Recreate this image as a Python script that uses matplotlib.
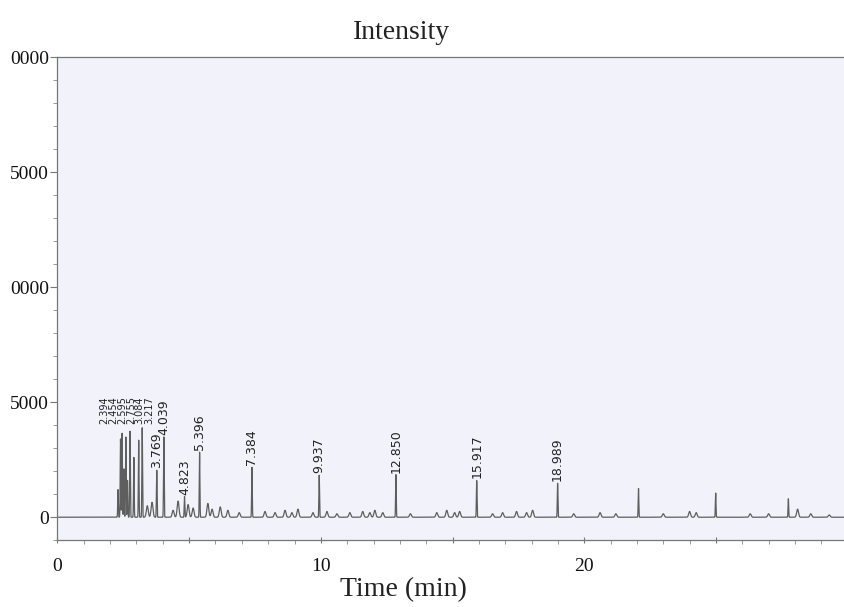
import matplotlib
matplotlib.use("Agg")
import matplotlib.pyplot as plt
from matplotlib.ticker import MultipleLocator
import numpy as np

# labelled peaks: retention time (min), height
lab_rt = [2.394, 2.454, 2.595, 2.755, 3.084, 3.217, 3.769, 4.039, 4.823, 5.396,
          7.384, 9.937, 12.850, 15.917, 18.989]
lab_h = [3400, 3650, 3500, 3750, 3350, 3900, 2050, 3500, 900, 2830,
         2170, 1830, 1850, 1600, 1480]
lab_txt = ["2.394", "2.454", "2.595", "2.755", "3.084", "3.217", "3.769", "4.039",
           "4.823", "5.396", "7.384", "9.937", "12.850", "15.917", "18.989"]

# unlabelled peaks
big_rt = [2.30, 2.52, 2.66, 2.90, 22.06, 24.99, 27.75]
big_h = [1200, 2100, 1600, 2600, 1250, 1050, 800]

minor_rt = [3.41, 3.59, 4.39, 4.58, 4.96, 5.15, 5.71, 5.87, 6.18, 6.47, 6.9,
            7.88, 8.26, 8.64, 8.90, 9.13, 9.70, 10.23, 10.61, 11.10, 11.59,
            11.86, 12.05, 12.35, 13.4, 14.40, 14.78, 15.08, 15.27, 16.52, 16.90,
            17.43, 17.81, 18.04, 19.6, 20.6, 21.2, 23.0, 24.0, 24.25, 26.3,
            27.0, 28.1, 28.6, 29.3]
minor_h = [500, 650, 300, 700, 550, 400, 600, 350, 450, 300, 200,
           250, 200, 300, 200, 350, 200, 250, 150, 200, 250,
           200, 300, 200, 150, 200, 300, 200, 250, 150, 200,
           250, 200, 300, 150, 200, 150, 150, 250, 200, 150,
           150, 350, 150, 100]

t = np.arange(0, 30, 0.002)
sig = np.zeros_like(t)
for rt, h in zip(lab_rt + big_rt, lab_h + big_h):
    sig += h * np.exp(-0.5 * ((t - rt) / 0.012) ** 2)
for rt, h in zip(minor_rt, minor_h):
    sig += h * np.exp(-0.5 * ((t - rt) / 0.035) ** 2)

fig = plt.figure(figsize=(8.45, 6.07), dpi=100)
ax = fig.add_axes([0.068, 0.11, 0.932, 0.796])
ax.set_facecolor("#f2f3fa")

ax.plot(t, sig, color="#5e5e5e", lw=0.9)

# crowded early cluster: labels fanned out side by side above the peaks
fan = [-16, -9, -4, 1, 1, 7]
for i, (rt, h, s) in enumerate(zip(lab_rt, lab_h, lab_txt)):
    if i < 6:
        ax.annotate(s, (rt, 3950), xytext=(fan[i], 2), textcoords="offset pixels",
                    rotation=90, ha="center", va="bottom", fontsize=7,
                    color="#222222", family="DejaVu Sans")
    else:
        ax.annotate(s, (rt, h), xytext=(0, 2), textcoords="offset pixels",
                    rotation=90, ha="center", va="bottom", fontsize=9,
                    color="#222222", family="DejaVu Sans")

ax.set_xlim(0, 29.9)
ax.set_ylim(-1000, 20000)

ax.xaxis.set_minor_locator(MultipleLocator(1))
ax.set_xticks([0, 5, 10, 15, 20, 25])
ax.set_xticklabels(["0", "", "10", "", "20", ""])
ax.set_yticks([0, 5000, 10000, 15000, 20000])
ax.set_yticklabels(["0", "5000", "0000", "5000", "0000"])
ax.yaxis.set_minor_locator(MultipleLocator(1000))

ax.tick_params(axis="both", which="major", labelsize=14, colors="#777777",
               labelcolor="#111111", length=5, width=0.8)
ax.tick_params(axis="both", which="minor", colors="#888888", length=3, width=0.6)
ax.tick_params(axis="y", pad=1)
ax.tick_params(axis="x", pad=10, direction="inout")
for lbl in ax.get_xticklabels() + ax.get_yticklabels():
    lbl.set_family("Liberation Serif")

for side in ["left", "bottom", "top"]:
    ax.spines[side].set_color("#777777")
    ax.spines[side].set_linewidth(0.9)
ax.spines["right"].set_visible(False)

fig.text(0.475, 0.947, "Intensity", ha="center", va="center", fontsize=20,
         family="Liberation Serif", color="#222222")
fig.text(0.477, 0.028, "Time (min)", ha="center", va="center", fontsize=20,
         family="Liberation Serif", color="#222222")

fig.savefig("out.png", dpi=100)
